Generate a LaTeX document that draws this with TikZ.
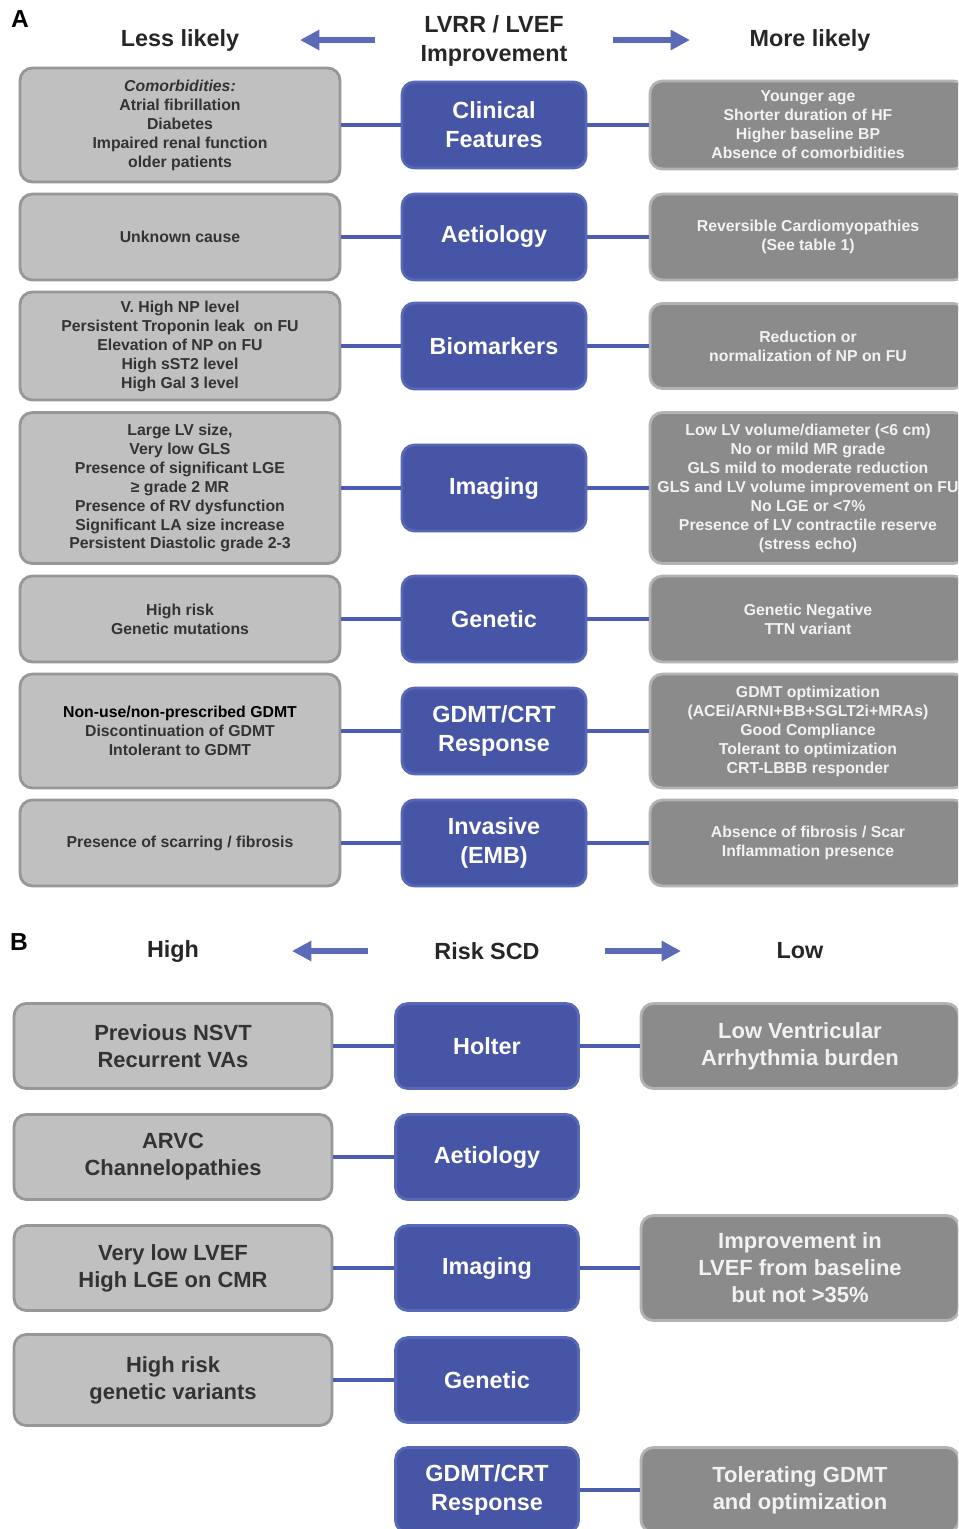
\documentclass[tikz,border=0pt]{standalone}
\usepackage{fontspec}
\setmainfont{Liberation Sans}
\usetikzlibrary{arrows.meta}

\definecolor{cblue}{HTML}{4655A5}
\definecolor{cblueedge}{HTML}{5868B6}
\definecolor{lgray}{HTML}{C0C0C0}
\definecolor{lgrayedge}{HTML}{979797}
\definecolor{dgray}{HTML}{8B8B8B}
\definecolor{dgrayedge}{HTML}{B3B3B3}
\definecolor{linkblue}{HTML}{4C5CAE}
\definecolor{arrblue}{HTML}{5B6BB8}
\definecolor{ltxt}{HTML}{333333}

\newcommand{\smalltxt}{\bfseries\fontsize{9}{10.8}\selectfont}
\newcommand{\midtxt}{\bfseries\fontsize{12.5}{15.3}\selectfont}
\newcommand{\bigtxt}{\bfseries\fontsize{13.3}{16.4}\selectfont}

\begin{document}
\begin{tikzpicture}[x=0.02cm, y=-0.02cm]
		\tikzset{
			base/.style={rounded corners=7pt, line width=1.6pt, align=center, inner sep=2pt},
			lbox/.style={base, fill=lgray, draw=lgrayedge, text=ltxt, font=\smalltxt, minimum width=6.4cm},
			rbox/.style={base, fill=dgray, draw=dgrayedge, text=white!95!black, font=\smalltxt, minimum width=6.32cm},
			cbox/.style={base, fill=cblue, draw=cblueedge, text=white, font=\bigtxt, minimum width=3.68cm, minimum height=1.72cm},
			lboxb/.style={lbox, font=\midtxt, minimum width=6.36cm, minimum height=1.7cm},
			rboxb/.style={rbox, font=\midtxt, minimum width=6.36cm, minimum height=1.7cm},
			cboxb/.style={cbox, minimum width=3.66cm, minimum height=1.7cm},
			hdr/.style={font=\bigtxt, align=center, text=black!85},
			link/.style={draw=linkblue, line width=2.2pt},
			pointer/.style={draw=arrblue, line width=3pt, -{Triangle[length=11pt, width=11pt]}}
		}

		\useasboundingbox (0,0) rectangle (958,1529);
		\clip (0,0) rectangle (958,1529);

		% panel A
		\node[font=\bfseries\fontsize{14}{16}\selectfont] (pa) at (20,19) {A};
		\node[hdr] (less) at (180,40) {Less likely};
		\node[hdr] (lvrr) at (494,41) {LVRR / LVEF\\Improvement};
		\node[hdr] (more) at (810,40) {More likely};
		\coordinate (al1) at (375,40);
		\coordinate (al2) at (300,40);
		\coordinate (ar1) at (613,40);
		\coordinate (ar2) at (690,40);
		\draw[pointer] (al1) to (al2);
		\draw[pointer] (ar1) to (ar2);

		\node[lbox, minimum height=2.28cm] (l1) at (180,125) {\textit{Comorbidities:}\\Atrial fibrillation\\Diabetes\\Impaired renal function\\older patients};
		\node[cbox] (c1) at (494,125) {Clinical\\Features};
		\node[rbox, minimum height=1.76cm] (r1) at (808,125) {Younger age\\Shorter duration of HF\\Higher baseline BP\\Absence of comorbidities};

		\node[lbox, minimum height=1.72cm] (l2) at (180,237) {Unknown cause};
		\node[cbox] (c2) at (494,237) {Aetiology};
		\node[rbox, minimum height=1.72cm] (r2) at (808,237) {Reversible Cardiomyopathies\\(See table 1)};

		\node[lbox, minimum height=2.16cm] (l3) at (180,346) {V. High NP level\\Persistent Troponin leak\ \ on FU\\Elevation of NP on FU\\High sST2 level\\High Gal 3 level};
		\node[cbox] (c3) at (494,346) {Biomarkers};
		\node[rbox, minimum height=1.7cm] (r3) at (808,346) {Reduction or\\normalization of NP on FU};

		\node[lbox, minimum height=3.02cm] (l4) at (180,488) {Large LV size,\\Very low GLS\\Presence of significant LGE\\≥ grade 2 MR\\Presence of RV dysfunction\\Significant LA size increase\\Persistent Diastolic grade 2-3};
		\node[cbox] (c4) at (494,488) {Imaging};
		\node[rbox, minimum height=3.02cm] (r4) at (808,488) {Low LV volume/diameter (<6 cm)\\No or mild MR grade\\GLS mild to moderate reduction\\GLS and LV volume improvement on FU\\No LGE or <7\%\\Presence of LV contractile reserve\\(stress echo)};

		\node[lbox, minimum height=1.72cm] (l5) at (180,619) {High risk\\Genetic mutations};
		\node[cbox] (c5) at (494,619) {Genetic};
		\node[rbox, minimum height=1.72cm] (r5) at (808,619) {Genetic Negative\\TTN variant};

		\node[lbox, minimum height=2.28cm] (l6) at (180,731) {\textcolor{black}{Non-use/non-prescribed GDMT}\\Discontinuation of GDMT\\Intolerant to GDMT};
		\node[cbox] (c6) at (494,731) {GDMT/CRT\\Response};
		\node[rbox, minimum height=2.28cm] (r6) at (808,731) {GDMT optimization\\(ACEi/ARNI+BB+SGLT2i+MRAs)\\Good Compliance\\Tolerant to optimization\\CRT-LBBB responder};

		\node[lbox, minimum height=1.72cm] (l7) at (180,843) {Presence of scarring / fibrosis};
		\node[cbox] (c7) at (494,843) {Invasive\\(EMB)};
		\node[rbox, minimum height=1.72cm] (r7) at (808,843) {Absence of fibrosis / Scar\\Inflammation presence};

		\draw[link] (l1) to (c1);
		\draw[link] (c1) to (r1);
		\draw[link] (l2) to (c2);
		\draw[link] (c2) to (r2);
		\draw[link] (l3) to (c3);
		\draw[link] (c3) to (r3);
		\draw[link] (l4) to (c4);
		\draw[link] (c4) to (r4);
		\draw[link] (l5) to (c5);
		\draw[link] (c5) to (r5);
		\draw[link] (l6) to (c6);
		\draw[link] (c6) to (r6);
		\draw[link] (l7) to (c7);
		\draw[link] (c7) to (r7);

		% panel B
		\node[font=\bfseries\fontsize{14}{16}\selectfont] (pb) at (19,942) {B};
		\node[hdr] (high) at (173,951) {High};
		\node[hdr] (risk) at (487,951) {Risk SCD};
		\node[hdr] (low) at (800,951) {Low};
		\coordinate (bl1) at (368,951);
		\coordinate (bl2) at (292,951);
		\coordinate (br1) at (605,951);
		\coordinate (br2) at (681,951);
		\draw[pointer] (bl1) to (bl2);
		\draw[pointer] (br1) to (br2);

		\node[lboxb] (hl1) at (173,1046) {Previous NSVT\\Recurrent VAs};
		\node[cboxb] (hc1) at (487,1046) {Holter};
		\node[rboxb] (hr1) at (800,1046) {Low Ventricular\\Arrhythmia burden};

		\node[lboxb] (hl2) at (173,1157) {ARVC\\Channelopathies};
		\node[cboxb] (hc2) at (487,1157) {Aetiology};

		\node[lboxb] (hl3) at (173,1268) {Very low LVEF\\High LGE on CMR};
		\node[cboxb] (hc3) at (487,1268) {Imaging};
		\node[rboxb, minimum height=2.1cm] (hr3) at (800,1268) {Improvement in\\LVEF from baseline\\but not >35\%};

		\node[lboxb, minimum height=1.82cm] (hl4) at (173,1380) {High risk\\genetic variants};
		\node[cboxb] (hc4) at (487,1380) {Genetic};

		\node[cboxb] (hc5) at (487,1490) {GDMT/CRT\\Response};
		\node[rboxb] (hr5) at (800,1490) {Tolerating GDMT\\and optimization};

		\draw[link] (hl1) to (hc1);
		\draw[link] (hc1) to (hr1);
		\draw[link] (hl2) to (hc2);
		\draw[link] (hl3) to (hc3);
		\draw[link] (hc3) to (hr3);
		\draw[link] (hl4) to (hc4);
		\draw[link] (hc5) to (hr5);
	\end{tikzpicture}
\end{document}
